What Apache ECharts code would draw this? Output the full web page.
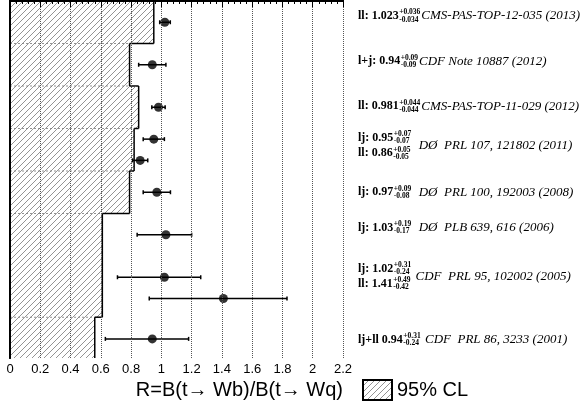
<!DOCTYPE html>
<html lang="en">
<head>
    <meta charset="UTF-8">
    <title>R = B(t->Wb)/B(t->Wq)</title>
    <script src="https://cdn.jsdelivr.net/npm/echarts@6/dist/echarts.min.js"></script>
    <style>
        html, body { margin: 0; padding: 0; background: #fff; }
        #chart { width: 581px; height: 414px; }
    </style>
</head>
<body>
    <div id="chart"></div>

    <script>
        // measurements, top to bottom
        const values = [1.023, 0.94, 0.981, 0.95, 0.86, 0.97, 1.03, 1.02, 1.41, 0.94];
        const errLow = [0.989, 0.85, 0.937, 0.88, 0.81, 0.88, 0.84, 0.71, 0.92, 0.63];
        const errHigh = [1.059, 1.03, 1.025, 1.02, 0.91, 1.06, 1.20, 1.26, 1.83, 1.18];
        const rowY = [0.5, 1.5, 2.5, 3.25, 3.75, 4.5, 5.5, 6.5, 7.0, 7.95];

        // 95% CL lower limits (hatched steps)
        const rowEdges = [0, 1, 2, 3, 4, 5, 7.44, 8.4];
        const clLimit = [0.95, 0.79, 0.85, 0.82, 0.79, 0.61, 0.56];

        // right-hand labels
        const labelMain = ['ll: 1.023', 'l+j: 0.94', 'll: 0.981', 'lj: 0.95', 'll: 0.86', 'lj: 0.97', 'lj: 1.03', 'lj: 1.02', 'll: 1.41', 'lj+ll 0.94'];
        const labelUp = ['+0.036', '+0.09', '+0.044', '+0.07', '+0.05', '+0.09', '+0.19', '+0.31', '+0.49', '+0.31'];
        const labelDown = ['-0.034', '-0.09', '-0.044', '-0.07', '-0.05', '-0.08', '-0.17', '-0.24', '-0.42', '-0.24'];
        const labelY = [0.35, 1.42, 2.48, 3.21, 3.58, 4.5, 5.33, 6.3, 6.65, 7.97];
        const refText = ['CMS-PAS-TOP-12-035 (2013)', 'CDF Note 10887 (2012)', 'CMS-PAS-TOP-11-029 (2012)', '  DØ  PRL 107, 121802 (2011)', '  DØ  PRL 100, 192003 (2008)', '  DØ  PLB 639, 616 (2006)', ' CDF  PRL 95, 102002 (2005)', ' CDF  PRL 86, 3233 (2001)'];
        const refY = [0.35, 1.42, 2.48, 3.4, 4.5, 5.33, 6.49, 7.97];
        const refRows = [[0], [1], [2], [3, 4], [5], [6], [7, 8], [9]];

        const MAIN_FONT = 'bold 12px "Liberation Serif"';
        const SUP_FONT = 'bold 7.5px "Liberation Serif"';
        const REF_FONT = 'italic 13px "Liberation Serif"';

        const measureCtx = document.createElement('canvas').getContext('2d');
        function textWidth(text, font) {
            measureCtx.font = font;
            return measureCtx.measureText(text).width;
        }

        // hatch pattern
        const hatch = document.createElement('canvas');
        hatch.width = 6;
        hatch.height = 6;
        const hctx = hatch.getContext('2d');
        hctx.strokeStyle = '#666';
        hctx.lineWidth = 0.7;
        hctx.beginPath();
        hctx.moveTo(0, 6); hctx.lineTo(6, 0);
        hctx.moveTo(-1, 1); hctx.lineTo(1, -1);
        hctx.moveTo(5, 7); hctx.lineTo(7, 5);
        hctx.stroke();
        const hatchFill = { image: hatch, repeat: 'repeat' };

        const chart = echarts.init(document.getElementById('chart'));

        const xCommon = {
            type: 'value', min: 0, max: 2.2, interval: 0.2
        };

        const option = {
            animation: false,
            backgroundColor: '#fff',
            grid: { left: 10, right: 238, top: 1, bottom: 56 },
            legend: {
                data: ['95% CL'],
                left: 362, top: 379,
                padding: 0,
                icon: 'rect',
                itemWidth: 29, itemHeight: 20,
                itemGap: 5,
                textStyle: { fontSize: 20, fontFamily: 'Liberation Sans', color: '#000' }
            },
            graphic: [{
                type: 'text',
                right: 238,
                top: 380,
                style: {
                    text: 'R=B(t\u2192 Wb)/B(t\u2192 Wq)',
                    font: '20px "Liberation Sans"',
                    fill: '#000'
                }
            }],
            xAxis: [
                Object.assign({}, xCommon, {
                    position: 'bottom',
                    z: 5,
                    axisLine: { show: true, lineStyle: { color: '#000', width: 2 } },
                    axisTick: { show: true, inside: true, length: 6, lineStyle: { color: '#000', width: 1 } },
                    minorTick: { show: true, splitNumber: 5, length: 3, lineStyle: { color: '#000', width: 1 } },
                    axisLabel: { fontSize: 13, fontFamily: 'Liberation Sans', color: '#000', margin: 5 },
                    splitLine: { show: true, lineStyle: { color: '#555', type: 'dotted', width: 1 } }
                }),
                Object.assign({}, xCommon, {
                    position: 'top',
                    z: 5,
                    axisLine: { show: true, lineStyle: { color: '#000', width: 2 } },
                    axisTick: { show: true, inside: true, length: 6, lineStyle: { color: '#000', width: 1 } },
                    minorTick: { show: true, splitNumber: 5, length: 3, lineStyle: { color: '#000', width: 1 } },
                    axisLabel: { show: false },
                    splitLine: { show: false }
                })
            ],
            yAxis: [
                {
                    type: 'value', min: 0, max: 8.4, inverse: true, position: 'left', z: 5,
                    axisLine: { show: true, lineStyle: { color: '#000', width: 2 } },
                    axisTick: { show: false }, axisLabel: { show: false }, splitLine: { show: false }
                },
                {
                    type: 'value', min: 0, max: 8.4, inverse: true, position: 'right', z: 5,
                    axisLine: { show: true, lineStyle: { color: '#000', width: 2 } },
                    axisTick: { show: false }, axisLabel: { show: false }, splitLine: { show: false }
                }
            ],
            series: [
                {
                    name: '95% CL',
                    type: 'custom',
                    z: 1,
                    itemStyle: { color: hatchFill, borderColor: '#000', borderWidth: 1 },
                    data: clLimit.map((v, i) => [v, rowEdges[i], rowEdges[i + 1]]),
                    renderItem: function (params, api) {
                        const i = params.dataIndex;
                        const lim = clLimit[i];
                        const y0 = rowEdges[i], y1 = rowEdges[i + 1];
                        const pTop = api.coord([0, y0]);
                        const pBot = api.coord([lim, y1]);
                        const children = [{
                            type: 'rect',
                            shape: { x: pTop[0], y: pTop[1], width: pBot[0] - pTop[0], height: pBot[1] - pTop[1] },
                            style: { fill: hatchFill }
                        }, {
                            type: 'line',
                            shape: { x1: pBot[0], y1: pTop[1], x2: pBot[0], y2: pBot[1] },
                            style: { stroke: '#000', lineWidth: 1.5 }
                        }];
                        if (i < clLimit.length - 1) {
                            const next = clLimit[i + 1];
                            const pNext = api.coord([next, y1]);
                            const pMin = api.coord([Math.min(lim, next), y1]);
                            children.push({
                                type: 'line',
                                shape: { x1: pBot[0], y1: pBot[1], x2: pNext[0], y2: pNext[1] },
                                style: { stroke: '#000', lineWidth: 1.5 }
                            });
                            children.push({
                                type: 'line',
                                shape: { x1: pTop[0], y1: pBot[1], x2: pMin[0], y2: pBot[1] },
                                style: { stroke: '#777', lineWidth: 0.8, lineDash: [2, 2] }
                            });
                        }
                        return { type: 'group', children: children };
                    }
                },
                {
                    type: 'custom',
                    z: 3,
                    data: values.map((v, i) => [errLow[i], errHigh[i], rowY[i]]),
                    encode: { x: [0, 1], y: 2 },
                    renderItem: function (params, api) {
                        const a = api.coord([api.value(0), api.value(2)]);
                        const b = api.coord([api.value(1), api.value(2)]);
                        const st = { stroke: '#000', lineWidth: 1.5 };
                        return {
                            type: 'group',
                            children: [
                                { type: 'line', shape: { x1: a[0], y1: a[1], x2: b[0], y2: b[1] }, style: st },
                                { type: 'line', shape: { x1: a[0], y1: a[1] - 2, x2: a[0], y2: a[1] + 2 }, style: st },
                                { type: 'line', shape: { x1: b[0], y1: b[1] - 2, x2: b[0], y2: b[1] + 2 }, style: st }
                            ]
                        };
                    }
                },
                {
                    type: 'scatter',
                    z: 4,
                    symbol: 'circle',
                    symbolSize: 9,
                    itemStyle: { color: '#000' },
                    data: values.map((v, i) => [v, rowY[i]])
                },
                {
                    type: 'custom',
                    z: 4,
                    clip: false,
                    data: labelY.map(y => [2.2, y]),
                    renderItem: function (params, api) {
                        const i = params.dataIndex;
                        const p = api.coord([api.value(0), api.value(1)]);
                        const x = p[0] + 15;
                        const w = textWidth(labelMain[i], MAIN_FONT);
                        return {
                            type: 'group',
                            children: [
                                { type: 'text', x: x, y: p[1], style: { text: labelMain[i], font: MAIN_FONT, fill: '#000', align: 'left', verticalAlign: 'middle' } },
                                { type: 'text', x: x + w + 0.5, y: p[1] - 3.5, style: { text: labelUp[i], font: SUP_FONT, fill: '#000', align: 'left', verticalAlign: 'middle' } },
                                { type: 'text', x: x + w + 0.5, y: p[1] + 3.8, style: { text: labelDown[i], font: SUP_FONT, fill: '#000', align: 'left', verticalAlign: 'middle' } }
                            ]
                        };
                    }
                },
                {
                    type: 'custom',
                    z: 4,
                    clip: false,
                    data: refY.map(y => [2.2, y]),
                    renderItem: function (params, api) {
                        const j = params.dataIndex;
                        const p = api.coord([api.value(0), api.value(1)]);
                        let w = 0;
                        refRows[j].forEach(k => {
                            w = Math.max(w, textWidth(labelMain[k], MAIN_FONT) + 0.5 + textWidth(labelUp[k], SUP_FONT));
                        });
                        return {
                            type: 'text',
                            x: p[0] + 15 + w + 1,
                            y: p[1],
                            style: { text: refText[j], font: REF_FONT, fill: '#000', align: 'left', verticalAlign: 'middle' }
                        };
                    }
                }
            ]
        };

        chart.setOption(option);
    </script>
</body>
</html>
